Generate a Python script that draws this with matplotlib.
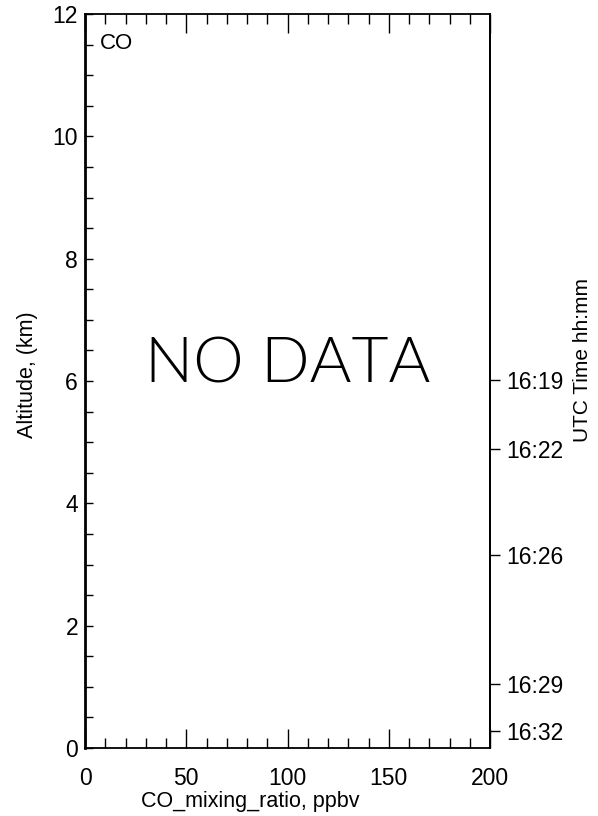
import matplotlib
matplotlib.use("Agg")
import matplotlib.pyplot as plt
from matplotlib.ticker import MultipleLocator

# ---- data ----
x_limits = [0, 200]
y_limits = [0, 12]
x_major_ticks = [0, 50, 100, 150, 200]
y_major_ticks = [0, 2, 4, 6, 8, 10, 12]
time_labels = ["16:19", "16:22", "16:26", "16:29", "16:32"]
time_altitudes = [6.01, 4.89, 3.15, 1.04, 0.28]
species = "CO"
x_label = "CO_mixing_ratio, ppbv"
y_label = "Altitude, (km)"
right_label = "UTC Time hh:mm"
message = "NO DATA"

plt.rcParams['font.family'] = ['Liberation Sans', 'DejaVu Sans']
fig = plt.figure(figsize=(5.98, 8.16), dpi=100)
ax = fig.add_axes([85/598, 1-748/816, 405/598, 734/816])
ax.set_xlim(x_limits)
ax.set_ylim(y_limits)
ax.set_xticks(x_major_ticks)
ax.set_yticks(y_major_ticks)
ax.xaxis.set_minor_locator(MultipleLocator(10))
ax.yaxis.set_minor_locator(MultipleLocator(0.5))
ax.tick_params(axis='x', which='major', direction='in', length=14, width=1, top=True, labelsize=16.5, pad=14)
ax.tick_params(axis='x', which='minor', direction='in', length=7, width=1, top=True)
ax.tick_params(axis='y', which='both', direction='in', length=6, width=1, right=False, labelsize=16.5, pad=5)
for s in ax.spines.values():
    s.set_linewidth(1.3)
ax.spines['left'].set_linewidth(2)

fig.text(250/598, 1-802/816, x_label, fontsize=15.5, ha='center', va='center')
fig.text(27/598, 1-375/816, y_label, rotation=90, fontsize=15.5, ha='center', va='center')

ax.text(7.4, 11.51, species, fontsize=16, ha='left', va='center')
ax.text(100, 5.98, message, fontsize=46, ha='center', va='baseline',
        fontweight=300, family=['Lato', 'DejaVu Sans'])

ax2 = ax.twinx()
ax2.set_ylim(y_limits)
ax2.set_yticks(time_altitudes)
ax2.set_yticklabels(time_labels)
ax2.tick_params(axis='y', direction='out', length=7, width=1, labelsize=16.5, pad=5)
ax2.spines['top'].set_visible(False)
ax2.spines['left'].set_visible(False)
ax2.spines['bottom'].set_visible(False)
ax2.spines['right'].set_linewidth(1.3)

fig.text(582/598, 1-360/816, right_label, rotation=90, fontsize=15, ha='center', va='center')

fig.savefig("out.png", dpi=100)
